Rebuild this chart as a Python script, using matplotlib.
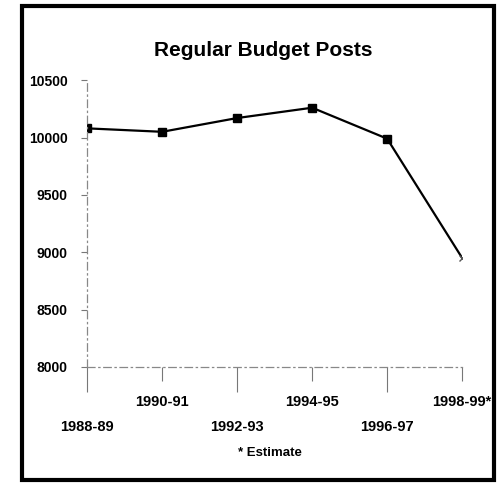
import matplotlib.pyplot as plt
from matplotlib.patches import Rectangle

YEARS = ["1988-89", "1990-91", "1992-93", "1994-95", "1996-97", "1998-99*"]
POSTS = [10080, 10050, 10170, 10260, 9990, 8950]
Y_TICKS = [8000, 8500, 9000, 9500, 10000, 10500]

plt.rcParams['font.family'] = ['Liberation Sans', 'DejaVu Sans']

fig = plt.figure(figsize=(4.98, 4.86), dpi=100)
ax = fig.add_axes([0.175, 0.245, 0.753, 0.59])

x = list(range(len(YEARS)))
ax.plot(x[:-1], POSTS[:-1], color='black', lw=1.6, marker='s', ms=6)
ax.plot(x[-2:], POSTS[-2:], color='black', lw=1.6)
ax.plot(x[-1], POSTS[-1], marker='x', color='#555555', ms=4, mew=1)

ax.set_xlim(0, 5)
ax.set_ylim(8000, 10500)
ax.set_yticks(Y_TICKS)
ax.set_yticklabels([str(v) for v in Y_TICKS], fontsize=10, fontweight='bold')
ax.tick_params(axis='y', length=4, width=0.8, color='#777777', pad=10)

# staggered category labels
ax.set_xticks(x[0::2])
ax.set_xticklabels(YEARS[0::2], fontsize=10.5, fontweight='bold')
ax.set_xticks(x[1::2], minor=True)
ax.set_xticklabels(YEARS[1::2], minor=True, fontsize=10.5, fontweight='bold')
ax.tick_params(axis='x', which='major', length=18, width=0.8, color='#777777', pad=20)
ax.tick_params(axis='x', which='minor', length=10, width=0.8, color='#777777', pad=10)

for side in ['top', 'right']:
    ax.spines[side].set_visible(False)
for side in ['left', 'bottom']:
    ax.spines[side].set_color('#888888')
    ax.spines[side].set_linestyle((0, (6, 3, 1, 3)))
    ax.spines[side].set_linewidth(0.9)

fig.text(0.528, 0.897, "Regular Budget Posts", ha='center', va='center',
         fontsize=15, fontweight='bold')
fig.text(0.542, 0.068, "* Estimate", ha='center', va='center',
         fontsize=9.5, fontweight='bold')

fig.patches.append(Rectangle((0.045, 0.012), 0.947, 0.975, transform=fig.transFigure,
                             fill=False, lw=3, edgecolor='black'))

fig.savefig("out.png", dpi=100)
